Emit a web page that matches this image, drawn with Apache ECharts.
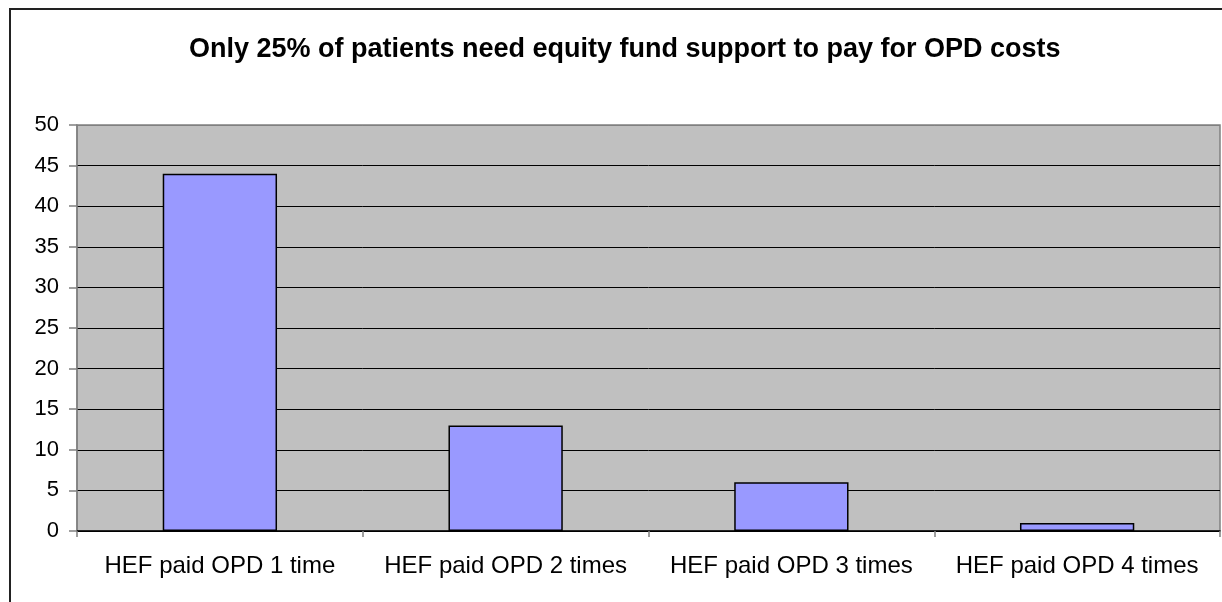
<!DOCTYPE html>
<html>
<head>
<meta charset="utf-8">
<script src="https://cdn.jsdelivr.net/npm/echarts@6/dist/echarts.min.js"></script>
<style>
html,body{margin:0;padding:0;background:#fff;}
#c{width:1222px;height:602px;}
</style>
</head>
<body>
<div id="c"></div>
<script>
const titleText = 'Only 25% of patients need equity fund support to pay for OPD costs';
const categories = ['HEF paid OPD 1 time', 'HEF paid OPD 2 times', 'HEF paid OPD 3 times', 'HEF paid OPD 4 times'];
const values = [44, 13, 6, 1];
const yTicks = [0, 5, 10, 15, 20, 25, 30, 35, 40, 45, 50];

const FONT = '"Liberation Sans", Arial, sans-serif';
const gridColors = yTicks.map((t, i) => i === yTicks.length - 1 ? '#808080' : '#000');
const chart = echarts.init(document.getElementById('c'), null, {renderer: 'canvas'});
chart.setOption({
  animation: false,
  backgroundColor: '#fff',
  title: {
    text: titleText,
    left: 184,
    top: 31,
    textStyle: {fontFamily: FONT, fontSize: 27, fontWeight: 'bold', color: '#000'}
  },
  graphic: [{
    type: 'rect',
    shape: {x: 10, y: 9, width: 1240, height: 640},
    style: {fill: 'none', stroke: '#222', lineWidth: 2},
    silent: true
  }],
  grid: {
    left: 77, right: 2, top: 125, bottom: 71,
    show: true, backgroundColor: '#C0C0C0', borderColor: '#808080', borderWidth: 1.5
  },
  xAxis: {
    type: 'category',
    data: categories,
    axisLine: {lineStyle: {color: '#000', width: 1.5}},
    axisTick: {show: true, interval: 0, length: 6, lineStyle: {color: '#808080', width: 1.5}},
    axisLabel: {interval: 0, fontFamily: FONT, fontSize: 24, color: '#000', margin: 23},
    splitLine: {show: false}
  },
  yAxis: {
    type: 'value',
    min: yTicks[0],
    max: yTicks[yTicks.length - 1],
    interval: yTicks[1] - yTicks[0],
    axisLine: {show: true, lineStyle: {color: '#808080', width: 1.5}},
    axisTick: {show: true, length: 8, lineStyle: {color: '#808080', width: 1.5}},
    axisLabel: {fontFamily: FONT, fontSize: 22, color: '#000', margin: 18},
    splitLine: {show: true, lineStyle: {color: gridColors, width: 1}}
  },
  series: [{
    type: 'bar',
    data: values,
    barWidth: '40%',
    itemStyle: {color: '#9999FF', borderColor: '#000', borderWidth: 1.5}
  }]
});
</script>
</body>
</html>
